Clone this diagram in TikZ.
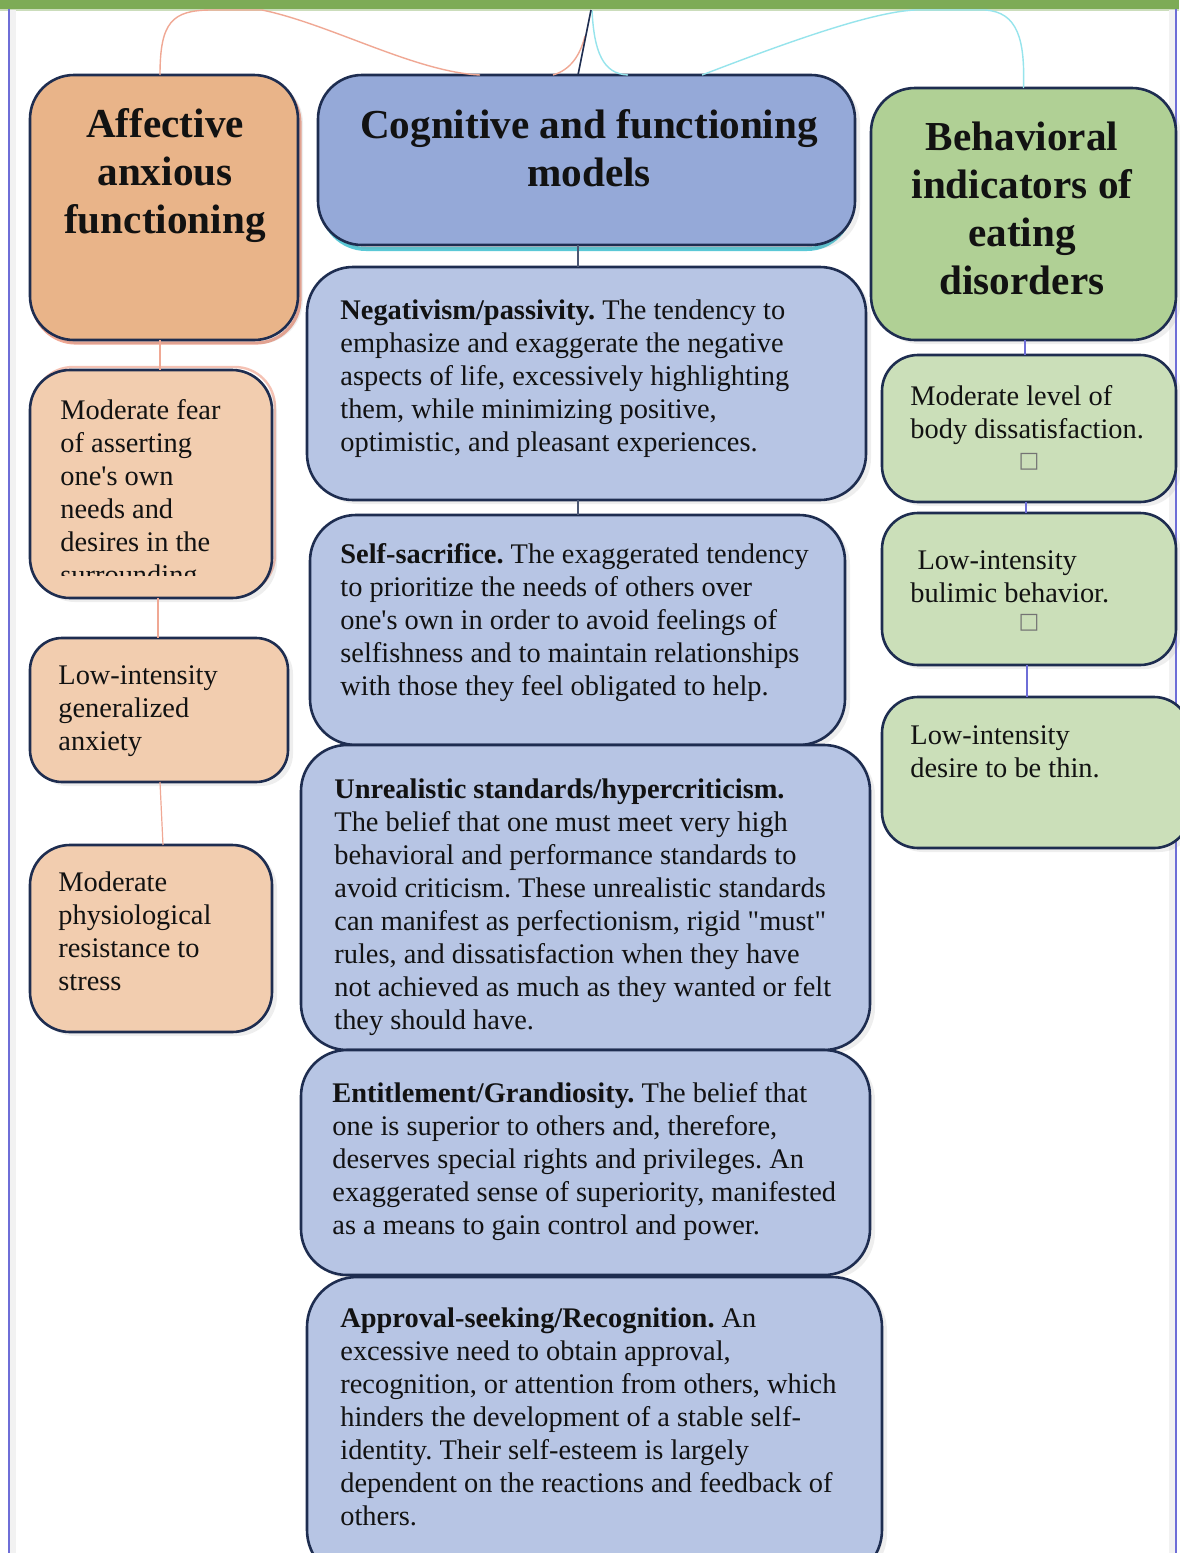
\documentclass[tikz,border=0pt]{standalone}
\usepackage{fontspec}
\setmainfont{Liberation Serif}[Ligatures=TeXOff]
\newfontfamily\symfont{DejaVu Sans}
\usetikzlibrary{shadows,calc}
\frenchspacing
\definecolor{topgreen}{RGB}{125,171,86}
\definecolor{edge}{RGB}{30,45,80}
\definecolor{affT}{RGB}{233,180,137}
\definecolor{affB}{RGB}{242,205,175}
\definecolor{cogT}{RGB}{149,169,216}
\definecolor{cogB}{RGB}{183,197,228}
\definecolor{behT}{RGB}{176,208,149}
\definecolor{behB}{RGB}{203,223,185}
\definecolor{salmon}{RGB}{240,168,148}
\definecolor{cyanl}{RGB}{150,228,236}
\definecolor{cyand}{RGB}{90,200,214}
\definecolor{bordblue}{RGB}{110,110,215}
\definecolor{txt}{RGB}{18,18,18}
\begin{document}
\begin{tikzpicture}[x=0.5pt,y=-0.5pt,
  box/.style={draw=edge, line width=1.3pt, rounded corners=20pt, inner sep=0pt, outer sep=0pt,
    drop shadow={shadow xshift=2.5pt, shadow yshift=-2pt, opacity=0.13}},
  titlebox/.style={box, rounded corners=22pt},
  body/.style={anchor=north west, inner sep=0pt, align=left, text=txt,
    font=\fontsize{14.2}{16.5}\selectfont\frenchspacing},
  title/.style={inner sep=0pt, align=center, text=txt,
    font=\fontsize{20.6}{24}\selectfont\bfseries},
  sq/.style={inner sep=0pt, text=black!55, font=\symfont\fontsize{11}{11}\selectfont},
  lconn/.style={draw=salmon, line width=0.6pt},
  mconn/.style={draw=edge!80, line width=0.6pt},
  rconn/.style={draw=bordblue, line width=0.6pt},
  cconn/.style={draw=cyanl, line width=0.7pt},
  oconn/.style={draw=salmon, line width=0.7pt}]
\useasboundingbox (0,0) rectangle (1179,1553);
\fill[white] (0,0) rectangle (1179,1553);
% frame
\fill[topgreen] (0,0) rectangle (1179,9);
\draw[topgreen!40, line width=0.6pt] (0,10) -- (1179,10);
\fill[black!5] (10,10) rectangle (16,1553);
\fill[black!5] (1169,10) rectangle (1175,1553);
\draw[bordblue, line width=0.8pt] (9,9) -- (9,1553);
\draw[bordblue, line width=0.8pt] (1176,9) -- (1176,1553);

% colored underlays
\draw[salmon, line width=1.6pt, rounded corners=22pt] (32,79) rectangle (300,343);
\draw[salmon!70, line width=1.2pt, rounded corners=20pt] (33,367) rectangle (275,595);
\draw[cyand, line width=2pt, rounded corners=22pt] (322,80) rectangle (851,249);

% boxes
\node[titlebox, fill=affT, minimum width=134pt, minimum height=132.5pt] (aff) at (164,207.5) {};
\node[box, fill=affB, minimum width=121pt, minimum height=114pt] (fear) at (151,484) {};
\node[box, fill=affB, rounded corners=16pt, minimum width=129pt, minimum height=72pt] (gad) at (159,710) {};
\node[box, fill=affB, minimum width=121pt, minimum height=93.5pt] (phys) at (151,938.5) {};

\node[titlebox, fill=cogT, minimum width=268.5pt, minimum height=85pt] (cog) at (586.5,160) {};
\node[box, fill=cogB, rounded corners=23pt, minimum width=279.5pt, minimum height=116.5pt] (neg) at (586.5,383.5) {};
\node[box, fill=cogB, rounded corners=23pt, minimum width=267.5pt, minimum height=115pt] (self) at (577.5,630) {};
\node[box, fill=cogB, rounded corners=23pt, minimum width=284.5pt, minimum height=152.5pt] (unr) at (585.5,897.5) {};
\node[box, fill=cogB, rounded corners=23pt, minimum width=284.5pt, minimum height=112.5pt] (ent) at (585.5,1162.5) {};
\node[box, fill=cogB, rounded corners=25pt, minimum width=287.5pt, minimum height=151.5pt] (app) at (594.5,1428.5) {};

\node[titlebox, fill=behT, minimum width=152.5pt, minimum height=126pt] (beh) at (1023.5,214) {};
\node[box, fill=behB, rounded corners=18pt, minimum width=147pt, minimum height=73.5pt] (lvl) at (1029,428.5) {};
\node[box, fill=behB, rounded corners=18pt, minimum width=147pt, minimum height=76pt] (bul) at (1029,589) {};
\node[box, fill=behB, rounded corners=18pt, minimum width=154pt, minimum height=75.5pt] (thin) at (1036,772.5) {};

% column connectors
\draw[lconn] ([xshift=-2pt]aff.south) -- ([xshift=4.5pt]fear.north);
\draw[lconn] ([xshift=3.5pt]fear.south) -- ([xshift=-0.5pt]gad.south |- gad.north);
\draw[lconn] ([xshift=0.5pt]gad.south) -- ([xshift=6pt]phys.north);
\draw[mconn] ([xshift=-4.25pt]cog.south) -- ([xshift=-4.25pt]neg.north);
\draw[mconn] ([xshift=-4.25pt]neg.south) -- ([xshift=0.25pt]self.north);
\draw[rconn] ([xshift=0.75pt]beh.south) -- ([xshift=-2pt]lvl.north);
\draw[rconn] ([xshift=-1.5pt]lvl.south) -- ([xshift=-1.5pt]bul.north);
\draw[rconn] ([xshift=-1pt]bul.south) -- ([xshift=-4.5pt]thin.north);

% top connectors
\coordinate (topdark) at (591,10);
\coordinate (topcy) at (592,10);
\coordinate (orend) at (585,36);
\draw[oconn] ([xshift=-2pt]aff.north) .. controls (160,22) and (172,10) .. (212,10) -- (262,10)
  .. controls (330,24) and (415,72) .. ([xshift=81pt]cog.north west);
\draw[oconn] ([xshift=117.5pt]cog.north west) .. controls (570,70) and (580,56) .. (orend);
\draw[cconn] (topcy) .. controls (594,52) and (603,74) .. ([xshift=155pt]cog.north west);
\draw[cconn] ([xshift=192pt]cog.north west) .. controls (780,45) and (870,12) .. (915,10) -- (985,10)
  .. controls (1018,12) and (1025,40) .. (beh.north);
\draw[edge, line width=0.8pt] ([xshift=-4.25pt]cog.north) -- (topdark);

% titles
\node[title] (affT) at (165,176) {Affective\\anxious\\functioning};
\node[title] (cogTt) at (589,148) {Cognitive and functioning\\models};
\node[title] (behTt) at (1022,208) {Behavioral\\indicators of\\eating\\disorders};

% left texts
\begin{scope}
\clip (30,370) rectangle (272,575);
\node[body] (fearT) at (60,399) {Moderate fear\\of asserting\\one's own\\needs and\\desires in the\\surrounding};
\end{scope}
\node[body] (gadT) at (58,665) {Low-intensity\\generalized\\anxiety};
\node[body] (physT) at (58,871) {Moderate\\physiological\\resistance to\\stress};

% middle texts
\node[body] (negT) at (340,299) {\textbf{Negativism/passivity.} The tendency to\\emphasize and exaggerate the negative\\aspects of life, excessively highlighting\\them, while minimizing positive,\\optimistic, and pleasant experiences.};
\node[body] (selfT) at (340,543) {\textbf{Self-sacrifice.} The exaggerated tendency\\to prioritize the needs of others over\\one's own in order to avoid feelings of\\selfishness and to maintain relationships\\with those they feel obligated to help.};
\node[body] (unrT) at (334,778) {\textbf{Unrealistic standards/hypercriticism.}\\The belief that one must meet very high\\behavioral and performance standards to\\avoid criticism. These unrealistic standards\\can manifest as perfectionism, rigid "must"\\rules, and dissatisfaction when they have\\not achieved as much as they wanted or felt\\they should have.};
\node[body] (entT) at (332,1082) {\textbf{Entitlement/Grandiosity.} The belief that\\one is superior to others and, therefore,\\deserves special rights and privileges. An\\exaggerated sense of superiority, manifested\\as a means to gain control and power.};
\node[body] (appT) at (340,1307) {\textbf{Approval-seeking/Recognition.} An\\excessive need to obtain approval,\\recognition, or attention from others, which\\hinders the development of a stable self-\\identity. Their self-esteem is largely\\dependent on the reactions and feedback of\\others.};

% right texts
\node[body] (lvlT) at (910,385) {Moderate level of\\body dissatisfaction.};
\node[sq] (lvlS) at (1029,462) {□};
\node[body] (bulT) at (910,550) {\ Low-intensity\\bulimic behavior.};
\node[sq] (bulS) at (1029,623) {□};
\node[body] (thinT) at (910,725) {Low-intensity\\desire to be thin.};
\end{tikzpicture}
\end{document}
